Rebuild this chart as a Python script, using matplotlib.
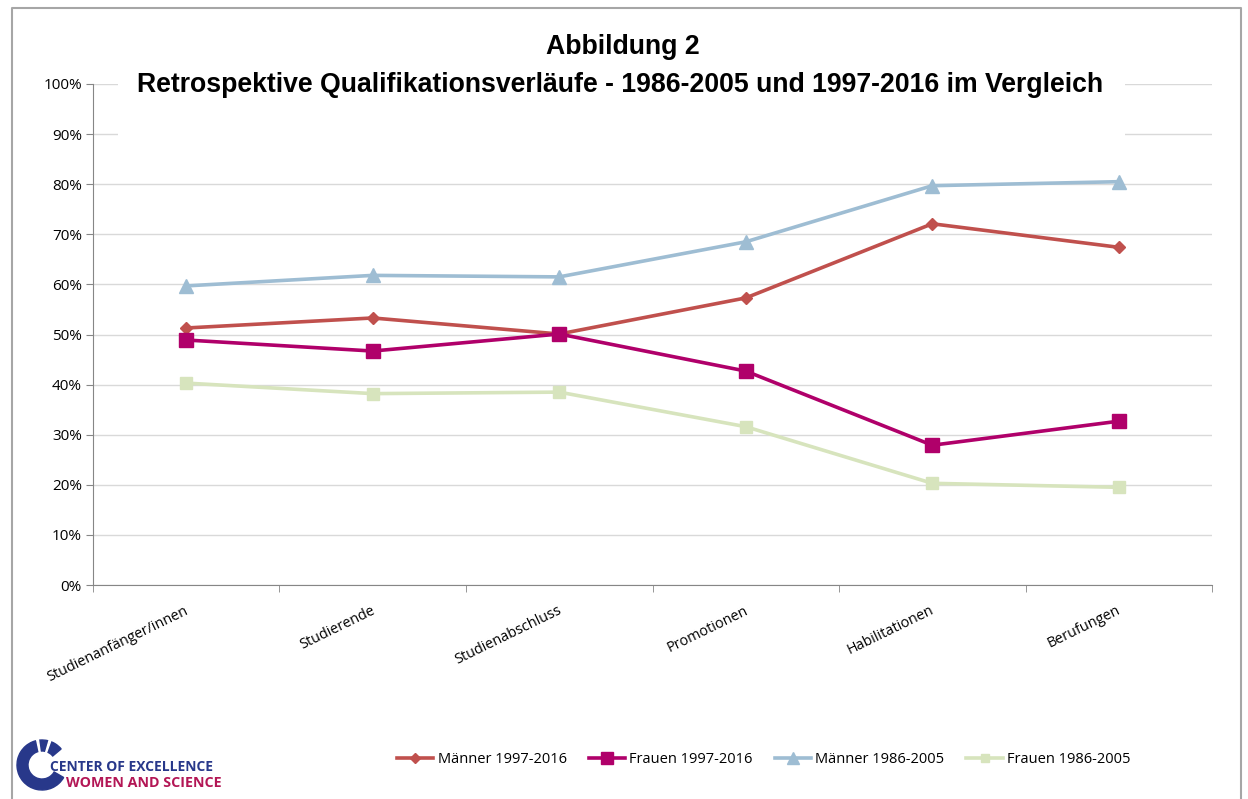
import matplotlib.pyplot as plt
import matplotlib.patches as mpatches
import matplotlib.transforms as mtrans
from matplotlib.ticker import FixedLocator, PercentFormatter

# Daten
kategorien = ['Studienanfänger/innen', 'Studierende', 'Studienabschluss',
              'Promotionen', 'Habilitationen', 'Berufungen']
maenner_9716 = [51.3, 53.3, 50.1, 57.3, 72.1, 67.4]
frauen_9716 = [48.9, 46.7, 50.1, 42.7, 27.9, 32.7]
maenner_8605 = [59.7, 61.8, 61.5, 68.5, 79.7, 80.5]
frauen_8605 = [40.3, 38.2, 38.5, 31.6, 20.3, 19.5]

y_ticks = list(range(0, 101, 10))

fig = plt.figure(figsize=(12.48, 7.99), dpi=100)
ax = fig.add_axes([0.0745, 0.2678, 0.8967, 0.6271])

x = list(range(len(kategorien)))

ax.plot(x, maenner_9716, color='#C0504D', lw=2.6, marker='D', ms=6,
        label='Männer 1997-2016', zorder=3)
ax.plot(x, frauen_9716, color='#B0006A', lw=2.6, marker='s', ms=10,
        label='Frauen 1997-2016', zorder=4)
ax.plot(x, maenner_8605, color='#9EBDD3', lw=2.6, marker='^', ms=10,
        label='Männer 1986-2005', zorder=3)
ax.plot(x, frauen_8605, color='#D7E4BD', lw=2.6, marker='s', ms=8,
        label='Frauen 1986-2005', zorder=3)

ax.set_xlim(-0.5, len(kategorien) - 0.5)
ax.set_ylim(0, 100)
ax.set_yticks(y_ticks)
ax.yaxis.set_major_formatter(PercentFormatter(decimals=0))
ax.grid(axis='y', color='#D9D9D9', lw=1)
ax.set_axisbelow(True)

# Kategorien schraeg, rechts oben an der Kategorie-Mitte verankert
ax.set_xticks(x)
ax.set_xticklabels([])
verschiebung = mtrans.ScaledTranslation(-2 / 100, -18 / 100, fig.dpi_scale_trans)
for i, name in enumerate(kategorien):
    ax.text(i, 0, name, transform=ax.get_xaxis_transform() + verschiebung,
            rotation=26, ha='right', va='top', rotation_mode='anchor',
            fontfamily='Open Sans', fontsize=10.4)
ax.xaxis.set_minor_locator(FixedLocator([i - 0.5 for i in range(len(kategorien) + 1)]))
ax.tick_params(axis='x', which='major', length=0)
ax.tick_params(axis='x', which='minor', length=5, color='#868686')
ax.tick_params(axis='y', length=5, color='#868686', labelsize=11, pad=3)
for lab in ax.get_yticklabels():
    lab.set_fontfamily('Open Sans')

for s in ['top', 'right']:
    ax.spines[s].set_visible(False)
for s in ['left', 'bottom']:
    ax.spines[s].set_color('#868686')

# weisser Titelkasten ueber den Gitterlinien
fig.add_artist(mpatches.Rectangle((118 / 1248, 1 - 140 / 799), (1125 - 118) / 1248, 120 / 799,
                                  transform=fig.transFigure, facecolor='white',
                                  edgecolor='none', zorder=2))
fig.text(0.499, 0.941, 'Abbildung 2', ha='center', va='center',
         fontfamily='Liberation Sans', fontweight='bold', fontsize=19.2, zorder=3)
fig.text(0.497, 0.894, 'Retrospektive Qualifikationsverläufe - 1986-2005 und 1997-2016 im Vergleich',
         ha='center', va='center', fontfamily='Liberation Sans', fontweight='bold',
         fontsize=19.2, zorder=3)

# Legende
fig.legend(loc='center', bbox_to_anchor=(0.612, 0.049), ncol=4, frameon=False,
           prop={'family': 'Open Sans', 'size': 10.5}, handlelength=2.5,
           handletextpad=0.3, columnspacing=1.5, markerscale=0.8)

# Rahmen
fig.add_artist(plt.Line2D([0.0096, 0.0096, 0.9944, 0.9944], [0.0, 0.99, 0.99, 0.0],
                          transform=fig.transFigure, color='#A6A6A6', lw=1.5))

# Logo (in Zoll, damit der Ring rund bleibt)
zoll = fig.dpi_scale_trans
mitte = (0.42, 0.34)
fig.add_artist(mpatches.Wedge(mitte, 0.25, 40, 330, width=0.11,
                              transform=zoll, color='#28388A'))
for w in [72, 100]:
    fig.add_artist(mpatches.Wedge(mitte, 0.26, w - 2, w + 2, width=0.13,
                                  transform=zoll, color='white'))
fig.text(0.040, 0.031, 'CENTER OF EXCELLENCE', fontfamily='Open Sans', fontweight='bold',
         fontsize=10, color='#28388A', va='bottom', zorder=3)
fig.text(0.053, 0.011, 'WOMEN AND SCIENCE', fontfamily='Open Sans', fontweight='bold',
         fontsize=10.3, color='#B31655', va='bottom', zorder=3)

fig.savefig('out.png', dpi=100)
